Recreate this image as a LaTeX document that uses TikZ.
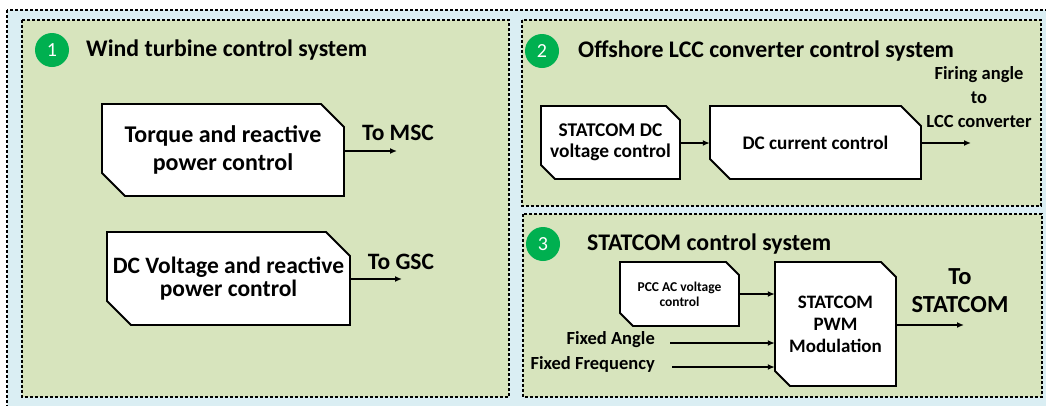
\documentclass[tikz,border=0pt]{standalone}
\usepackage{fontspec}
\setmainfont{Carlito}
\usetikzlibrary{arrows.meta}
\definecolor{outerblue}{HTML}{DAEEF3}
\definecolor{panelgreen}{HTML}{D7E4BD}
\definecolor{numgreen}{HTML}{00B050}
\tikzset{
  dotbox/.style={draw=black, line width=1.6pt, dash pattern=on 3pt off 2pt},
  boxline/.style={draw=black, fill=white, line width=1.8pt, line join=miter},
  conn/.style={line width=1.6pt, -{Latex[length=7pt,width=6pt]}},
  numcirc/.style={circle, fill=numgreen, minimum size=34pt, inner sep=0pt, text=white, font=\fontsize{20}{24}\selectfont},
  paneltitle/.style={anchor=west, inner sep=0pt, font=\bfseries\fontsize{23.8}{28}\selectfont},
  lbl/.style={inner sep=0pt, align=center, font=\bfseries\fontsize{#1}{#1}\selectfont},
}
% #1 name, #2 x1, #3 y1, #4 x2, #5 y2, #6 cut, #7 font size, #8 line skip, #9 text
\newcommand\cutbox[9]{%
  \draw[boxline] (#2,#3) -- ({#4-#6},#3) -- (#4,{#3+#6}) -- (#4,#5) -- ({#2+#6},#5) -- (#2,{#5-#6}) -- cycle;
  \node[inner sep=0pt, minimum width={(#4-#2)*1pt}, minimum height={(#5-#3)*1pt}, align=center,
        font=\bfseries\fontsize{#7}{#8}\selectfont] (#1) at ({(#2+#4)/2},{(#3+#5)/2}) {#9};
}
\begin{document}
\begin{tikzpicture}[x=1pt,y=-1pt]
\useasboundingbox (0,0) rectangle (1046,405);
\clip (0,0) rectangle (1046,405);
\fill[outerblue] (7,10) rectangle (1060,420);
\draw[dotbox] (7,10) rectangle (1060,420);
% panels
\draw[dotbox, fill=panelgreen] (22,20) rectangle (509,397);
\draw[dotbox, fill=panelgreen] (522,20) rectangle (1041,206);
\draw[dotbox, fill=panelgreen] (523,214) rectangle (1042,397);
% titles
\node[numcirc] (n1) at (52,50) {1};
\node[paneltitle] (t1) at (86,50) {Wind turbine control system};
\node[numcirc] (n2) at (542,51) {2};
\node[paneltitle] (t2) at (578,51) {Offshore LCC converter control system};
\node[numcirc] (n3) at (543,244) {3};
\node[paneltitle] (t3) at (587,244) {STATCOM control system};
% panel 1
\cutbox{A}{102}{104}{344}{196}{23}{24}{28}{Torque and reactive\\power control}
\cutbox{B}{107}{232}{350}{325}{24}{23.5}{23}{DC Voltage and reactive\\power control}
\coordinate (msc) at (397,151);
\coordinate (gsc) at (402,279);
\draw[conn] (A.east |- msc) -- (msc);
\draw[conn] (B.east |- gsc) -- (gsc);
\node[lbl=23.5] (lmsc) at (398,133) {To MSC};
\node[lbl=23.5] (lgsc) at (401,262) {To GSC};
% panel 2
\cutbox{C}{541}{106}{680}{179}{14}{19.4}{21}{STATCOM DC\\voltage control}
\cutbox{D}{710}{106}{921}{179}{20}{19.2}{21}{DC current control}
\coordinate (fire) at (971,143);
\draw[conn] (C.east |- fire) -- (D.west |- fire);
\draw[conn] (D.east |- fire) -- (fire);
\node[lbl=18.5, font=\bfseries\fontsize{18.5}{24}\selectfont] (lfire) at (979,97) {Firing angle\\to\\LCC converter};
% panel 3
\cutbox{E}{620}{262}{739}{326}{13}{13.5}{15}{PCC AC voltage\\control}
\cutbox{F}{775}{262}{896}{386}{15}{19}{22}{STATCOM\\PWM\\Modulation}
\draw[conn] (E.east) -- (E.east -| F.west);
\coordinate (stat) at (964,325);
\draw[conn] (F.east |- stat) -- (stat);
\node[lbl=24.5, font=\bfseries\fontsize{24.5}{28}\selectfont] (lstat) at (960,291) {To\\STATCOM};
\coordinate (fa) at (670,343);
\coordinate (ff) at (672,367);
\node[lbl=18.5, anchor=east] (lfa) at (655,340) {Fixed Angle};
\node[lbl=18.5, anchor=east] (lff) at (655,364) {Fixed Frequency};
\draw[conn] (fa) -- (fa -| F.west);
\draw[conn] (ff) -- (ff -| F.west);
\end{tikzpicture}
\end{document}
